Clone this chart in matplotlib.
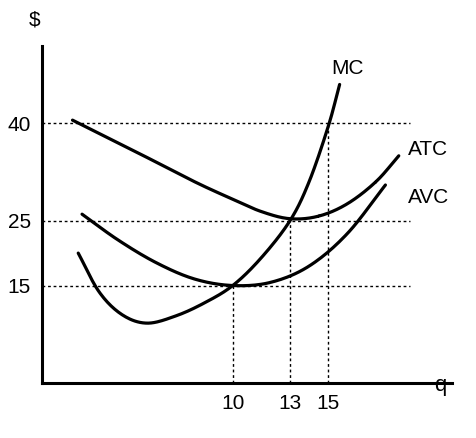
import numpy as np
import matplotlib
matplotlib.use("Agg")
import matplotlib.pyplot as plt

plt.rcParams['font.family'] = ['Liberation Sans', 'DejaVu Sans']

mc_x = [1.9, 3, 4.2, 5.5, 7, 8.5, 10, 11.5, 13, 14, 15, 15.6]
mc_y = [20, 14, 10.5, 9.2, 10.3, 12.3, 15, 19.3, 25, 31, 39.5, 46]
atc_x = [1.6, 5, 8, 10, 11.5, 13, 14.5, 16, 17.5, 18.7]
atc_y = [40.5, 35.5, 31, 28.3, 26.4, 25.3, 25.7, 27.6, 31, 35]
avc_x = [2.1, 4, 6, 8, 10, 12, 14, 16, 18]
avc_y = [26, 22, 18.5, 16, 15, 15.5, 18, 23, 30.5]
y_ticks = [15, 25, 40]
x_ticks = [10, 13, 15]

def smooth(x, y, n=20):
    x = np.asarray(x, float); y = np.asarray(y, float)
    P = np.column_stack([x, y])
    P = np.vstack([2*P[0]-P[1], P, 2*P[-1]-P[-2]])
    out = []
    for i in range(1, len(P)-2):
        p0, p1, p2, p3 = P[i-1], P[i], P[i+1], P[i+2]
        t = np.linspace(0, 1, n)[:, None]
        out.append(0.5*((2*p1) + (-p0+p2)*t + (2*p0-5*p1+4*p2-p3)*t**2 + (-p0+3*p1-3*p2+p3)*t**3))
    out = np.vstack(out)
    return out[:, 0], out[:, 1]

fig = plt.figure(figsize=(4.77, 4.38), dpi=100)
ax = fig.add_axes([0.088, 0.126, 0.86, 0.77])
ax.set_xlim(0, 21.5)
ax.set_ylim(0, 52)
for s in ['top', 'right']:
    ax.spines[s].set_visible(False)
for s in ['left', 'bottom']:
    ax.spines[s].set_linewidth(2.2)

for xs, ys in [(mc_x, mc_y), (atc_x, atc_y), (avc_x, avc_y)]:
    sx, sy = smooth(xs, ys)
    ax.plot(sx, sy, color='black', lw=2.3, solid_capstyle='round')

for yv in y_ticks:
    ax.plot([0, 19.3], [yv, yv], color='black', lw=1, ls=(0, (2, 2)))
for xv, top in zip(x_ticks, [15, 25, 40]):
    ax.plot([xv, xv], [0, top], color='black', lw=1, ls=(0, (2, 2)))

ax.set_yticks(y_ticks)
ax.set_yticklabels([str(v) for v in y_ticks], fontsize=15)
ax.set_xticks(x_ticks)
ax.set_xticklabels([str(v) for v in x_ticks], fontsize=15)
ax.tick_params(length=0, pad=8)

ax.text(16.0, 48.5, 'MC', fontsize=15, ha='center', va='center')
ax.text(19.2, 36, 'ATC', fontsize=15, ha='left', va='center')
ax.text(19.2, 28.5, 'AVC', fontsize=15, ha='left', va='center')
fig.text(35/477, 1-20/438, '$', fontsize=15, ha='center', va='center')
fig.text(440/477, 1-386/438, 'q', fontsize=16, ha='center', va='center')

fig.savefig('out.png', dpi=100)
